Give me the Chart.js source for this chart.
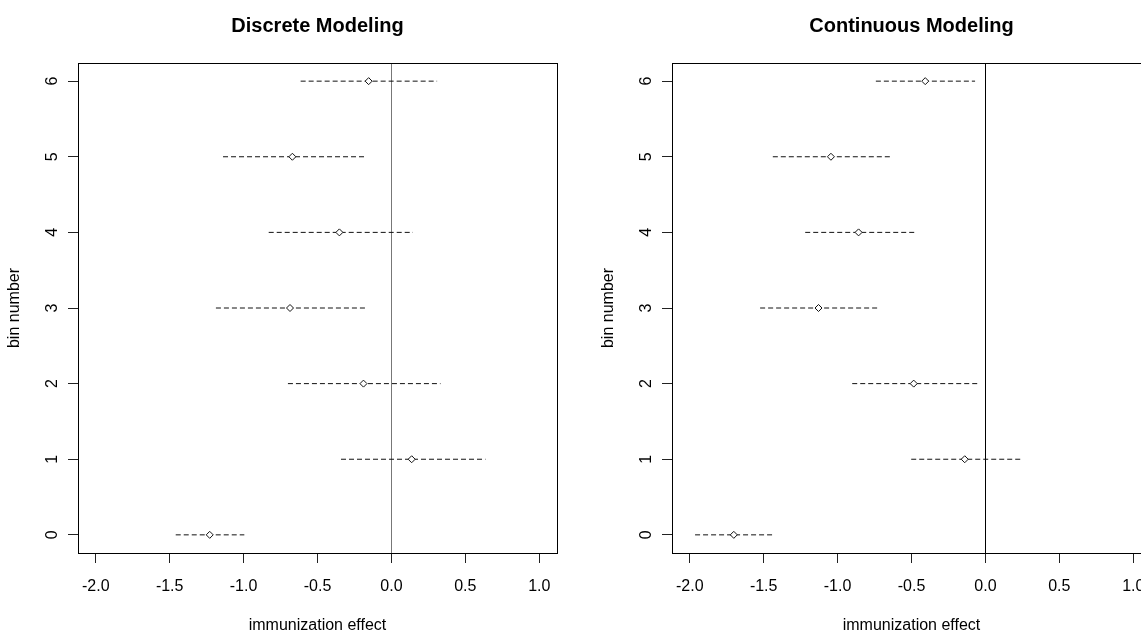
<!DOCTYPE html>
<html lang="en">
<head>
  <meta charset="UTF-8">
  <title>Immunization effect by bin</title>
  <script src="https://cdn.jsdelivr.net/npm/chart.js"></script>
  <style>
    html, body {
      margin: 0;
      padding: 0;
      background: #fff;
      overflow: hidden;
    }

    #panels {
      width: 1188px;
      height: 632px;
      display: flex;
    }

    canvas {
      display: block;
    }
  </style>
</head>
<body>
  <div id="panels">
    <canvas id="discreteChart" width="594" height="632"></canvas>
    <canvas id="continuousChart" width="594" height="632"></canvas>
  </div>

  <script>
    // bins on the y axis
    const bins = [0, 1, 2, 3, 4, 5, 6];
    const xTicks = [-2, -1.5, -1, -0.5, 0, 0.5, 1];

    // discrete modeling: estimate and interval ends, per bin
    const discreteEst = [-1.229, 0.137, -0.189, -0.686, -0.352, -0.670, -0.154];
    const discreteLo  = [-1.459, -0.341, -0.700, -1.187, -0.830, -1.139, -0.614];
    const discreteHi  = [-0.995, 0.636, 0.332, -0.174, 0.146, -0.165, 0.309];

    // continuous modeling
    const contEst = [-1.702, -0.140, -0.485, -1.129, -0.858, -1.045, -0.407];
    const contLo  = [-1.964, -0.502, -0.901, -1.524, -1.219, -1.438, -0.741];
    const contHi  = [-1.431, 0.253, -0.037, -0.714, -0.465, -0.632, -0.070];

    const FONT = '"Liberation Sans", Arial, sans-serif';

    // R-style panel: full box, zero reference line, bold title over the plot area
    const rPanel = {
      id: 'rPanel',
      beforeDatasetsDraw(chart, args, opts) {
        const { ctx, chartArea: a, scales: { x } } = chart;
        const px = Math.round(x.getPixelForValue(0)) + 0.5;
        ctx.save();
        ctx.strokeStyle = opts.zeroColor;
        ctx.lineWidth = 1;
        ctx.beginPath();
        ctx.moveTo(px, a.top);
        ctx.lineTo(px, a.bottom);
        ctx.stroke();
        ctx.restore();
      },
      afterDraw(chart, args, opts) {
        const { ctx, chartArea: a } = chart;
        ctx.save();
        ctx.strokeStyle = '#000';
        ctx.lineWidth = 1;
        ctx.strokeRect(a.left + 0.5, a.top + 0.5, a.right - a.left, a.bottom - a.top);
        ctx.fillStyle = '#000';
        ctx.font = 'bold 20px ' + FONT;
        ctx.textAlign = 'center';
        ctx.textBaseline = 'alphabetic';
        ctx.fillText(opts.title, (a.left + a.right) / 2, 32);
        ctx.restore();
      }
    };

    function makePanel(id, title, est, lo, hi, zeroColor) {
      const intervals = bins.map((b, i) => ({
        type: 'line',
        data: [{ x: lo[i], y: b }, { x: hi[i], y: b }],
        borderColor: '#111',
        borderWidth: 1,
        borderDash: [5, 3],
        pointRadius: 0,
        showLine: true,
        fill: false
      }));

      const points = {
        type: 'scatter',
        data: bins.map((b, i) => ({ x: est[i], y: b })),
        pointStyle: 'rectRot',
        pointRadius: 3.5,
        pointBorderWidth: 1,
        pointBorderColor: '#111',
        pointBackgroundColor: '#fff'
      };

      new Chart(document.getElementById(id).getContext('2d'), {
        type: 'scatter',
        data: { datasets: [points, ...intervals] },
        plugins: [rPanel],
        options: {
          responsive: false,
          animation: false,
          events: [],
          layout: { padding: { top: 63, right: 37, left: 0, bottom: 0 } },
          scales: {
            x: {
              type: 'linear',
              min: -2.12,
              max: 1.12,
              afterBuildTicks: s => { s.ticks = xTicks.map(v => ({ value: v })); },
              afterFit: s => { s.height = 79; },
              grid: { drawOnChartArea: false, drawTicks: true, tickLength: 10, tickColor: '#222' },
              border: { display: false },
              ticks: {
                padding: 14,
                color: '#000',
                font: { family: FONT, size: 16 },
                maxRotation: 0,
                callback: v => v.toFixed(1)
              },
              title: {
                display: true,
                text: 'immunization effect',
                color: '#000',
                font: { family: FONT, size: 16, lineHeight: 1 },
                padding: { top: 0, bottom: -2 }
              }
            },
            y: {
              type: 'linear',
              min: -0.24,
              max: 6.24,
              afterBuildTicks: s => { s.ticks = bins.map(v => ({ value: v })); },
              afterFit: s => { s.width = 78; },
              grid: { drawOnChartArea: false, drawTicks: true, tickLength: 10, tickColor: '#222' },
              border: { display: false },
              ticks: {
                padding: 11,
                color: '#000',
                font: { family: FONT, size: 16 },
                minRotation: 90,
                maxRotation: 90,
                crossAlign: 'center',
                callback: v => String(v)
              },
              title: {
                display: true,
                text: 'bin number',
                color: '#000',
                font: { family: FONT, size: 16, lineHeight: 1 },
                padding: { top: 7, bottom: 0 }
              }
            }
          },
          plugins: {
            legend: { display: false },
            tooltip: { enabled: false },
            rPanel: { title: title, zeroColor: zeroColor }
          }
        }
      });
    }

    makePanel('discreteChart', 'Discrete Modeling', discreteEst, discreteLo, discreteHi, '#777');
    makePanel('continuousChart', 'Continuous Modeling', contEst, contLo, contHi, '#000');
  </script>
</body>
</html>
